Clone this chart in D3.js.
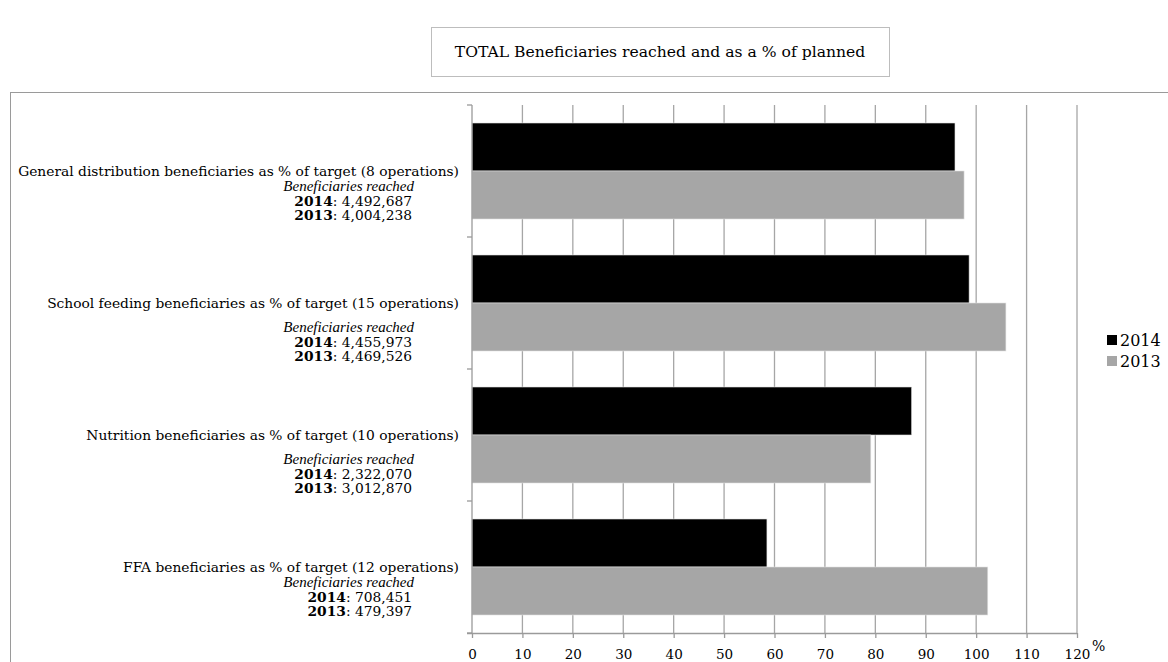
<!DOCTYPE html>
<html>
<head>
<meta charset="utf-8">
<script src="https://cdn.jsdelivr.net/npm/d3@7/dist/d3.min.js"></script>
<style>
  html, body { margin: 0; padding: 0; background: #fff; }
  svg { display: block; }
  text { font-family: "DejaVu Serif", "Liberation Serif", serif; fill: #000; }
</style>
</head>
<body>
<svg id="chart" width="1168" height="662"></svg>
<script>
// ---------------- DATA ----------------
const title = "TOTAL Beneficiaries reached and as a % of planned";
const categories = [
  "General distribution beneficiaries as % of target (8 operations)",
  "School feeding beneficiaries as % of target (15 operations)",
  "Nutrition beneficiaries as % of target (10 operations)",
  "FFA beneficiaries as % of target (12 operations)"
];
const series = ["2014", "2013"];
const values2014 = [95.8, 98.6, 87.2, 58.5];
const values2013 = [97.6, 105.9, 79.1, 102.3];
const reached2014 = ["4,492,687", "4,455,973", "2,322,070", "708,451"];
const reached2013 = ["4,004,238", "4,469,526", "3,012,870", "479,397"];
const subLabel = "Beneficiaries reached";
const xTicks = [0, 10, 20, 30, 40, 50, 60, 70, 80, 90, 100, 110, 120];
const unitLabel = "%";
const colors = { "2014": "#000000", "2013": "#a6a6a6" };

// ---------------- LAYOUT ----------------
const plot = { left: 472, right: 1077, top: 105, bottom: 633 };
const extraGap = [0, 1, 1, 0]; // blank space between first label line and the rest
const labelSize = "13.8px";
const serif = '"DejaVu Serif", "Liberation Serif", serif';

const svg = d3.select("#chart");

// chart frame
svg.append("rect")
  .attr("x", 10.5).attr("y", 92.5)
  .attr("width", 1200).attr("height", 700)
  .attr("fill", "none").attr("stroke", "#9a9a9a").attr("stroke-width", 1);

// title box
svg.append("rect")
  .attr("x", 431.5).attr("y", 27.5).attr("width", 458).attr("height", 49)
  .attr("fill", "#fff").attr("stroke", "#bdbdbd");
svg.append("text")
  .attr("x", 660).attr("y", 57)
  .attr("text-anchor", "middle")
  .style("font-family", serif)
  .style("font-size", "15.6px")
  .text(title);

// scales
const x = d3.scaleLinear().domain([0, 120]).range([plot.left, plot.right]);
const y = d3.scaleBand().domain(categories).range([plot.top, plot.bottom])
  .paddingInner(36 / 132).paddingOuter(18 / 132);
const ySub = d3.scaleBand().domain(series).range([0, y.bandwidth()]);

// gridlines
svg.append("g").selectAll("line").data(xTicks.slice(1)).join("line")
  .attr("x1", d => x(d)).attr("x2", d => x(d))
  .attr("y1", plot.top).attr("y2", plot.bottom)
  .attr("stroke", "#a6a6a6").attr("stroke-width", 1.3);

// bars
const rows = categories.map((c, i) => ({ c, v: { "2014": values2014[i], "2013": values2013[i] } }));
const g = svg.append("g");
rows.forEach(r => {
  series.forEach(s => {
    g.append("rect")
      .attr("x", x(0))
      .attr("y", y(r.c) + ySub(s))
      .attr("width", x(r.v[s]) - x(0))
      .attr("height", ySub.bandwidth())
      .attr("fill", colors[s])
      .attr("stroke", "#e0e0e0").attr("stroke-width", 0.6);
  });
});

// x axis
const xAxis = d3.axisBottom(x).tickValues(xTicks).tickSize(5).tickPadding(11).tickFormat(d3.format("d"));
const xg = svg.append("g").attr("transform", `translate(0,${plot.bottom})`).call(xAxis);
xg.select(".domain").attr("stroke", "#9a9a9a").attr("stroke-width", 1.3)
  .attr("d", `M${plot.left - 5},0.5H${plot.right}`);
xg.selectAll(".tick line").attr("stroke", "#9a9a9a").attr("stroke-width", 1.3);
xg.selectAll(".tick text").style("font-size", "13.5px").style("font-family", serif).attr("fill", "#000");

svg.append("text")
  .attr("x", plot.right + 15).attr("y", 651)
  .style("font-size", "14px")
  .text(unitLabel);

// y axis
svg.append("line")
  .attr("x1", plot.left).attr("x2", plot.left)
  .attr("y1", plot.top).attr("y2", plot.bottom)
  .attr("stroke", "#9a9a9a").attr("stroke-width", 1.3);
svg.append("g").selectAll("line").data(d3.range(categories.length + 1)).join("line")
  .attr("x1", plot.left - 5).attr("x2", plot.left)
  .attr("y1", i => plot.top + i * y.step()).attr("y2", i => plot.top + i * y.step())
  .attr("stroke", "#9a9a9a").attr("stroke-width", 1.3);

// category labels
const lab = svg.append("g").style("font-size", labelSize);
categories.forEach((c, i) => {
  const cy = y(c) + y.bandwidth() / 2;
  lab.append("text").attr("x", 459).attr("y", cy + 5).attr("text-anchor", "end").text(c);
  const base = cy + 5 + 15 + extraGap[i] * 9;
  lab.append("text").attr("x", 414).attr("y", base).attr("text-anchor", "end")
    .style("font-family", '"Liberation Serif", serif')
    .style("font-size", "15px")
    .style("font-style", "italic").text(subLabel);
  const t1 = lab.append("text").attr("x", 412).attr("y", base + 14.5).attr("text-anchor", "end");
  t1.append("tspan").style("font-weight", "bold").text(series[0]);
  t1.append("tspan").text(": " + reached2014[i]);
  const t2 = lab.append("text").attr("x", 412).attr("y", base + 29).attr("text-anchor", "end");
  t2.append("tspan").style("font-weight", "bold").text(series[1]);
  t2.append("tspan").text(": " + reached2013[i]);
});

// legend
const leg = svg.append("g");
series.forEach((s, i) => {
  const ly = 340 + i * 21;
  leg.append("rect").attr("x", 1107).attr("y", ly - 5).attr("width", 10).attr("height", 10).attr("fill", colors[s]);
  leg.append("text").attr("x", 1120).attr("y", ly + 6).style("font-size", "16px").text(s);
});
</script>
</body>
</html>
